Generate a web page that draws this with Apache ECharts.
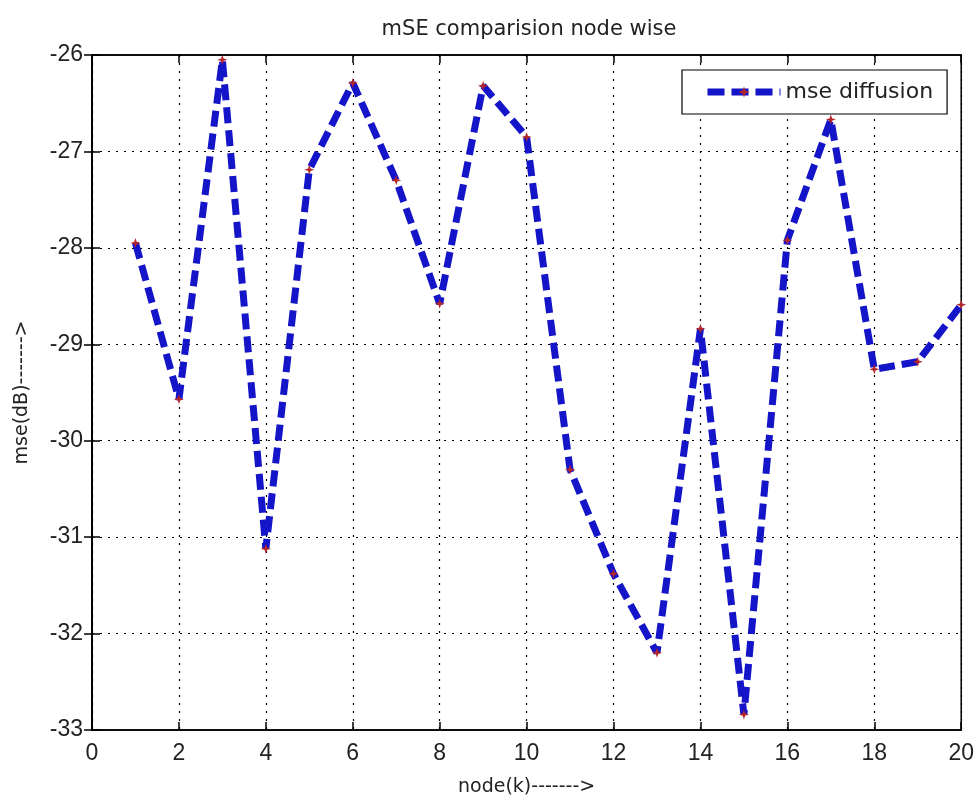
<!DOCTYPE html>
<html>
<head>
<meta charset="utf-8">
<script src="https://cdn.jsdelivr.net/npm/echarts@6/dist/echarts.min.js"></script>
<style>
  html, body { margin: 0; padding: 0; background: #fff; }
  #main { width: 977px; height: 803px; }
</style>
</head>
<body>
<div id="main"></div>
<script>
// node index and mse per node (dB)
const nodes = [1, 2, 3, 4, 5, 6, 7, 8, 9, 10, 11, 12, 13, 14, 15, 16, 17, 18, 19, 20];
const mseDiffusion = [-27.95, -29.57, -26.05, -31.12, -27.19, -26.29, -27.30, -28.58, -26.32, -26.85,
  -30.30, -31.38, -32.20, -28.84, -32.84, -27.92, -26.67, -29.26, -29.18, -28.59];

const font = 'Liberation Sans, Arial, sans-serif';
const wideFont = 'DejaVu Sans, sans-serif';
const textColor = '#222';

const chart = echarts.init(document.getElementById('main'));

// asterisk-ish star for the marker
const starPath = 'path://M0,-10L2.5,-2.5L10,0L2.5,2.5L0,10L-2.5,2.5L-10,0L-2.5,-2.5Z';

const option = {
  backgroundColor: '#fff',
  animation: false,
  title: {
    text: 'mSE comparision node wise',
    left: 524,
    textAlign: 'center',
    top: 14,
    textStyle: { fontFamily: wideFont, fontSize: 21, fontWeight: 'normal', color: textColor }
  },
  grid: {
    left: 92, right: 15, top: 55, bottom: 73,
    show: true, borderColor: '#000', borderWidth: 1.5, backgroundColor: '#fff'
  },
  legend: {
    left: 682, top: 70,
    padding: [11, 14, 11, 22],
    backgroundColor: '#fff',
    borderColor: '#000', borderWidth: 1.2, borderRadius: 0,
    itemWidth: 73, itemHeight: 14, itemGap: 6,
    lineStyle: { width: 7, type: [17, 7], color: '#1414c8' },
    itemStyle: { color: '#b3262a' },
    textStyle: { fontFamily: wideFont, fontSize: 22, color: textColor },
    data: ['mse diffusion']
  },
  xAxis: [{
    type: 'value', min: 0, max: 20, interval: 2,
    name: 'node(k)------->', nameLocation: 'middle', nameGap: 48,
    nameTextStyle: { fontFamily: wideFont, fontSize: 19, color: textColor },
    axisLine: { show: true, onZero: false, lineStyle: { color: '#000', width: 1.5 } },
    axisTick: { show: true, inside: true, length: 8, lineStyle: { color: '#000', width: 1.5 } },
    axisLabel: { fontFamily: font, fontSize: 23, color: textColor, margin: 12 },
    splitLine: { show: true, lineStyle: { color: '#000', type: [2, 6], width: 1.2 } }
  }, {
    type: 'value', min: 0, max: 20, interval: 2, position: 'top',
    axisLine: { show: true, lineStyle: { color: '#000', width: 1.5 } },
    axisTick: { show: true, inside: true, length: 8, lineStyle: { color: '#000', width: 1.5 } },
    axisLabel: { show: false },
    splitLine: { show: false }
  }],
  yAxis: [{
    type: 'value', min: -33, max: -26, interval: 1,
    name: 'mse(dB)------->', nameLocation: 'middle', nameGap: 60, nameRotate: 90,
    nameTextStyle: { fontFamily: wideFont, fontSize: 19, color: textColor },
    axisLine: { show: true, onZero: false, lineStyle: { color: '#000', width: 1.5 } },
    axisTick: { show: true, inside: true, length: 8, lineStyle: { color: '#000', width: 1.5 } },
    axisLabel: { fontFamily: font, fontSize: 23, color: textColor, margin: 9 },
    splitLine: { show: true, lineStyle: { color: '#000', type: [2, 6], width: 1.2 } }
  }, {
    type: 'value', min: -33, max: -26, interval: 1, position: 'right',
    axisLine: { show: true, lineStyle: { color: '#000', width: 1.5 } },
    axisTick: { show: true, inside: true, length: 8, lineStyle: { color: '#000', width: 1.5 } },
    axisLabel: { show: false },
    splitLine: { show: false }
  }],
  series: [{
    name: 'mse diffusion',
    type: 'line',
    data: nodes.map((n, i) => [n, mseDiffusion[i]]),
    symbol: starPath,
    symbolSize: 10,
    showAllSymbol: true,
    itemStyle: { color: '#b3262a' },
    lineStyle: { color: '#1414c8', width: 7, type: [16, 7] },
    z: 3
  }]
};

chart.setOption(option);
</script>
</body>
</html>
